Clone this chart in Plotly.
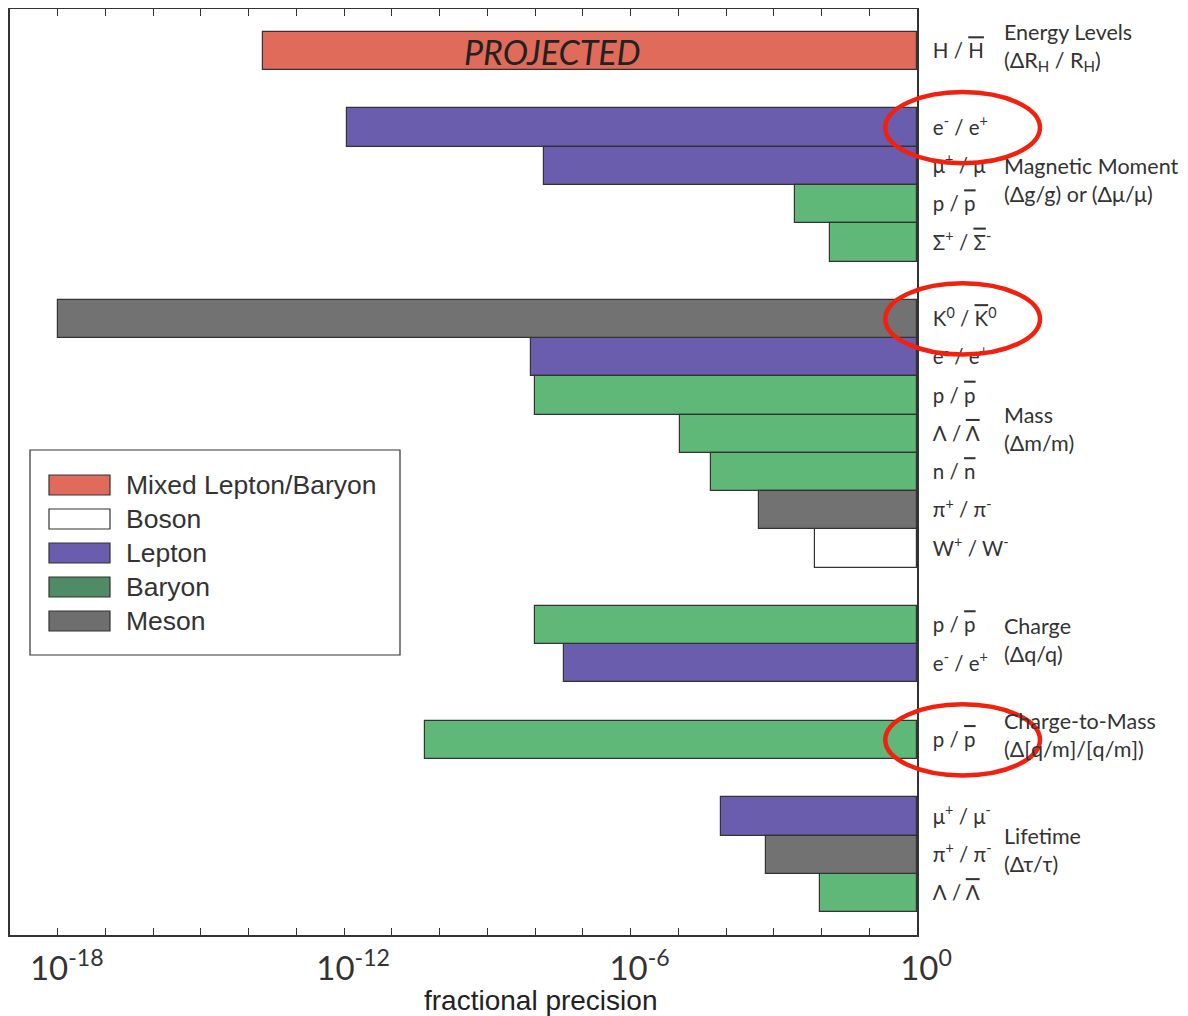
import plotly.graph_objects as go

def ob(s):
    return f'<span style="text-decoration:overline">{s}</span>'

# ---------------- data ----------------
group_labels = [
    "Energy Levels<br>(ΔR<sub>H</sub> / R<sub>H</sub>)",
    "Magnetic Moment<br>(Δg/g) or (Δμ/μ)",
    "Mass<br>(Δm/m)",
    "Charge<br>(Δq/q)",
    "Charge-to-Mass<br>(Δ[q/m]/[q/m])",
    "Lifetime<br>(Δτ/τ)",
]

particles = [
    "H / " + ob("H"),
    "e<sup>-</sup> / e<sup>+</sup>",
    "μ<sup>+</sup> / μ<sup>-</sup>",
    "p / " + ob("p"),
    "Σ<sup>+</sup> / " + ob("Σ") + "<sup>-</sup>",
    "K<sup>0</sup> / " + ob("K") + "<sup>0</sup>",
    "e<sup>-</sup> / e<sup>+</sup>",
    "p / " + ob("p"),
    "Λ / " + ob("Λ"),
    "n / " + ob("n"),
    "π<sup>+</sup> / π<sup>-</sup>",
    "W<sup>+</sup> / W<sup>-</sup>",
    "p / " + ob("p"),
    "e<sup>-</sup> / e<sup>+</sup>",
    "p / " + ob("p"),
    "μ<sup>+</sup> / μ<sup>-</sup>",
    "π<sup>+</sup> / π<sup>-</sup>",
    "Λ / " + ob("Λ"),
]
group_index = [0, 1, 1, 1, 1, 2, 2, 2, 2, 2, 2, 2, 3, 3, 4, 5, 5, 5]
precision = [1.95e-14, 1.12e-12, 1.51e-8, 2.75e-3, 1.51e-2,
             1.0e-18, 8.1e-9, 1.0e-8, 1.07e-5, 4.8e-5, 4.9e-4, 7.2e-3,
             1.0e-8, 4.0e-8,
             4.9e-11,
             7.8e-5, 6.9e-4, 9.3e-3]
kind = ["Mixed Lepton/Baryon", "Lepton", "Lepton", "Baryon", "Baryon",
        "Meson", "Lepton", "Baryon", "Baryon", "Baryon", "Meson", "Boson",
        "Baryon", "Lepton", "Baryon", "Lepton", "Meson", "Baryon"]
highlighted = [1, 5, 14]  # circled rows

kinds = ["Mixed Lepton/Baryon", "Boson", "Lepton", "Baryon", "Meson"]
bar_colors = {"Mixed Lepton/Baryon": "#E06B5A", "Boson": "#FFFFFF",
              "Lepton": "#6B5DAE", "Baryon": "#5FB878", "Meson": "#727272"}
legend_colors = {"Mixed Lepton/Baryon": "#E06B5A", "Boson": "#FFFFFF",
                 "Lepton": "#6B5DAE", "Baryon": "#4F8B64", "Meson": "#6E6E6E"}

decades = [10.0 ** (-e) for e in range(0, 20)]
labelled = {-18: "10<sup>-18</sup>", -12: "10<sup>-12</sup>", -6: "10<sup>-6</sup>", 0: "10<sup>0</sup>"}

# ---------------- row layout (one blank row between groups) ----------------
rows = []
pos, prev = 0, None
for g in group_index:
    if prev is not None and g != prev:
        pos += 1
    rows.append(pos)
    pos += 1
    prev = g

fig = go.Figure()
for k in kinds:
    idx = [i for i, kk in enumerate(kind) if kk == k]
    if not idx:
        continue
    fig.add_trace(go.Bar(
        orientation="h",
        y=[rows[i] for i in idx],
        base=[precision[i] for i in idx],
        x=[1 - precision[i] for i in idx],
        width=1,
        marker=dict(color=bar_colors[k], line=dict(color="#333333", width=1.2)),
        showlegend=False,
        name=k,
    ))

# PROJECTED label on the hydrogen bar
fig.add_annotation(x=-7.63, y=rows[0], xref="x", yref="y", text="<i>PROJECTED</i>",
                   showarrow=False, font=dict(family="Lato", size=34, color="#222222"))

# group labels on the right
for g, lab in enumerate(group_labels):
    ys = [rows[i] for i, gg in enumerate(group_index) if gg == g]
    fig.add_annotation(x=1.094, xref="paper", y=sum(ys) / len(ys) - 0.12, yref="y",
                       text=lab, showarrow=False, xanchor="left", align="left",
                       font=dict(family="Lato", size=21.5, color="#333333"))

# axis title
fig.add_annotation(x=0.585, xref="paper", y=-0.0705, yref="paper", yanchor="middle",
                   text="fractional precision", showarrow=False,
                   font=dict(family="Liberation Sans", size=28, color="#222222"))

# red ellipses around highlighted labels
for i in highlighted:
    fig.add_shape(type="circle", xref="paper", yref="y",
                  x0=0.965, x1=1.1356, y0=rows[i] - 0.93, y1=rows[i] + 0.93,
                  line=dict(color="#F2200E", width=4.5), fillcolor="rgba(0,0,0,0)")

# manual legend
W_, H_ = 907.0, 926.0
def px(xp):
    return (xp - 10) / W_
def py(yp):
    return (935 - yp) / H_
fig.add_shape(type="rect", xref="paper", yref="paper",
              x0=px(30), x1=px(400), y0=py(450), y1=py(655),
              line=dict(color="#333333", width=1.2), fillcolor="white")
for j, k in enumerate(kinds):
    yc = 485 + 34 * j
    fig.add_shape(type="rect", xref="paper", yref="paper",
                  x0=px(49), x1=px(110), y0=py(yc - 10), y1=py(yc + 10),
                  line=dict(color="#333333", width=1.2), fillcolor=legend_colors[k])
    fig.add_annotation(x=px(124), y=py(yc), xref="paper", yref="paper",
                       text=k, showarrow=False, xanchor="left", yanchor="middle",
                       font=dict(family="Liberation Sans", size=26.5, color="#333333"))

fig.update_layout(
    xaxis=dict(
        type="log", range=[-19, 0],
        tickvals=decades,
        ticktext=[labelled.get(-e, "") for e in range(0, 20)],
        ticks="inside", ticklen=7, tickwidth=1.2, tickcolor="#333333",
        ticklabelshift=9, ticklabelstandoff=4,
        showline=True, linecolor="#333333", linewidth=1.5, mirror="ticks",
        showgrid=False, zeroline=False, automargin=False,
        tickfont=dict(family="Lato", size=33, color="#333333"),
    ),
    yaxis=dict(
        range=[rows[-1] + 1.1, -1.1],
        tickvals=rows, ticktext=particles, side="right",
        ticks="", ticklabelstandoff=10,
        showline=True, linecolor="#333333", linewidth=1.5, mirror=True,
        showgrid=False, zeroline=False, automargin=False,
        tickfont=dict(family="Lato", size=20.5, color="#333333"),
    ),
    width=1180, height=1008,
    margin=dict(l=2, r=271, t=1, b=81),
    plot_bgcolor="white", paper_bgcolor="white",
    barmode="overlay", bargap=0,
)
fig.write_html("out.html")
